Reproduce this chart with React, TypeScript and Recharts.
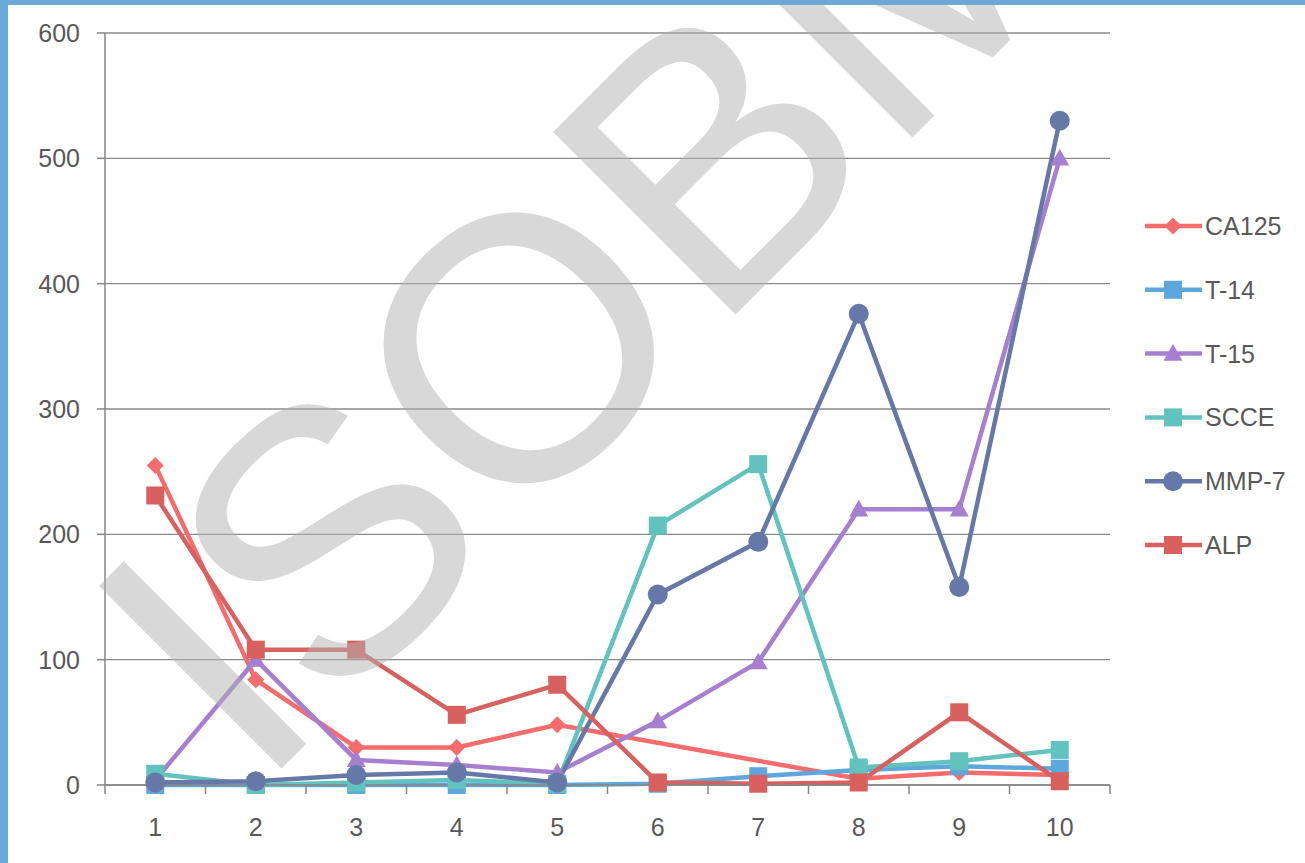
import React from 'react';
import { LineChart, Line, XAxis, YAxis, CartesianGrid } from 'recharts';

const categories = [1, 2, 3, 4, 5, 6, 7, 8, 9, 10];
const ca125 = [255, 84, 30, 30, 48, null, null, 5, 10, 8];
const t14 = [0, 0, 0, 0, 0, 1, 7, 12, 15, 13];
const t15 = [4, 100, 20, 16, 10, 51, 98, 220, 220, 500];
const scce = [9, 0, 2, 4, 1, 207, 256, 14, 19, 28];
const mmp7 = [2, 3, 8, 10, 2, 152, 194, 376, 158, 530];
const alp = [231, 108, 108, 56, 80, 2, 1, 2, 58, 3];
const yTicks = [0, 100, 200, 300, 400, 500, 600];

// label ticks at categories, tick marks at category boundaries
const xTicks: number[] = [categories[0] - 0.5];
categories.forEach((c) => {
  xTicks.push(c);
  xTicks.push(c + 0.5);
});

type Shape = 'diamond' | 'square' | 'triangle' | 'circle';
const series: { key: string; name: string; color: string; shape: Shape; values: (number | null)[] }[] = [
  { key: 'ca125', name: 'CA125', color: '#f66b6b', shape: 'diamond', values: ca125 },
  { key: 't14', name: 'T-14', color: '#5ea7dc', shape: 'square', values: t14 },
  { key: 't15', name: 'T-15', color: '#a67fd1', shape: 'triangle', values: t15 },
  { key: 'scce', name: 'SCCE', color: '#62c3be', shape: 'square', values: scce },
  { key: 'mmp7', name: 'MMP-7', color: '#6678a7', shape: 'circle', values: mmp7 },
  { key: 'alp', name: 'ALP', color: '#d8605f', shape: 'square', values: alp },
];

const data = categories.map((c, i) => {
  const row: Record<string, number | null> = { x: c };
  series.forEach((s) => {
    row[s.key] = s.values[i];
  });
  return row;
});

const FONT = '"Liberation Sans", Arial, sans-serif';
const TEXT = '#595959';
const AXIS = '#868686';

function Marker({ shape, cx, cy, color }: { shape: Shape; cx: number; cy: number; color: string }) {
  if (shape === 'diamond') {
    const h = 8.5;
    return <polygon points={`${cx},${cy - h} ${cx + h},${cy} ${cx},${cy + h} ${cx - h},${cy}`} fill={color} />;
  }
  if (shape === 'square') {
    const h = 9;
    return <rect x={cx - h} y={cy - h} width={2 * h} height={2 * h} fill={color} />;
  }
  if (shape === 'triangle') {
    const h = 9.5;
    return <polygon points={`${cx},${cy - h} ${cx + h},${cy + h * 0.75} ${cx - h},${cy + h * 0.75}`} fill={color} />;
  }
  return <circle cx={cx} cy={cy} r={10} fill={color} />;
}

const makeDot = (shape: Shape, color: string) => (props: any) => {
  const { cx, cy, value, index } = props;
  if (value == null || cx == null || cy == null || isNaN(cy)) return <g key={`e-${index}`} />;
  return (
    <g key={`d-${index}`}>
      <Marker shape={shape} cx={cx} cy={cy} color={color} />
    </g>
  );
};

function XTick(props: any) {
  const { x, y, payload } = props;
  const v = payload?.value;
  if (v == null) return <g />;
  if (Number.isInteger(v)) {
    return (
      <text x={x} y={y + 33} dy="0.71em" textAnchor="middle" fontSize={25} fontFamily={FONT} fill={TEXT}>
        {String(v)}
      </text>
    );
  }
  return <line x1={x} x2={x} y1={y} y2={y + 9} stroke={AXIS} strokeWidth={1.5} />;
}

export default function App() {
  return (
    <div style={{ position: 'absolute', left: 0, top: 0, width: 1305, height: 863, background: '#ffffff', overflow: 'hidden' }}>
      <LineChart width={1305} height={863} data={data} margin={{ top: 33, right: 195, bottom: 28, left: 0 }}>
        <CartesianGrid vertical={false} stroke="#8a8a8a" strokeWidth={1.3} />
        <YAxis
          width={105}
          domain={[0, 600]}
          ticks={yTicks}
          interval={0}
          tickSize={8}
          tickMargin={17}
          stroke={AXIS}
          axisLine={{ stroke: AXIS, strokeWidth: 1.5 }}
          tickLine={{ stroke: AXIS, strokeWidth: 1.5 }}
          tick={{ fill: TEXT, fontSize: 25, fontFamily: FONT }}
        />
        <XAxis
          type="number"
          dataKey="x"
          domain={[categories[0] - 0.5, categories[categories.length - 1] + 0.5]}
          ticks={xTicks}
          interval={0}
          height={50}
          tickSize={0}
          tickMargin={0}
          axisLine={{ stroke: AXIS, strokeWidth: 1.5 }}
          tickLine={false}
          tick={<XTick />}
        />
        {series.map((s) => (
          <Line
            key={s.key}
            type="linear"
            dataKey={s.key}
            name={s.name}
            stroke={s.color}
            strokeWidth={4.5}
            connectNulls
            isAnimationActive={false}
            dot={makeDot(s.shape, s.color)}
            activeDot={false}
          />
        ))}
      </LineChart>
      <svg width={1305} height={863} style={{ position: 'absolute', left: 0, top: 0, pointerEvents: 'none' }}>
        {series.map((s, i) => {
          const y = 226 + i * 63.8;
          return (
            <g key={s.key}>
              <line x1={1145} x2={1202} y1={y} y2={y} stroke={s.color} strokeWidth={4.5} />
              <Marker shape={s.shape} cx={1173} cy={y} color={s.color} />
              <text x={1205} y={y} dominantBaseline="central" fontSize={25} fontFamily={FONT} fill={TEXT}>
                {s.name}
              </text>
            </g>
          );
        })}
        <text
          x={257}
          y={793}
          transform="rotate(-45 257 793)"
          fontSize={375}
          fontFamily={FONT}
          fill="#b2b2b2"
          opacity={0.5}
        >
          ISOBM
        </text>
      </svg>
      <div style={{ position: 'absolute', left: 0, top: 0, width: 1305, height: 5, background: '#6fa8d5' }} />
      <div style={{ position: 'absolute', left: 0, top: 0, width: 8, height: 863, background: '#6aa8da' }} />
    </div>
  );
}
